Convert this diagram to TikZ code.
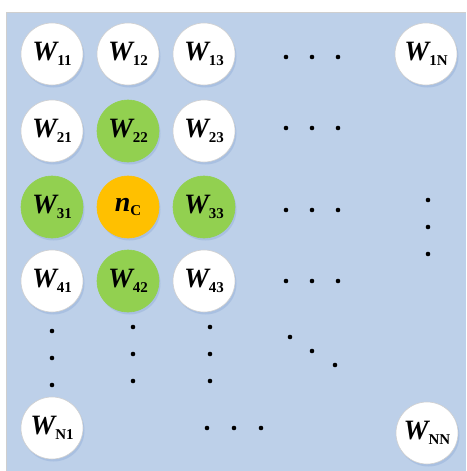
\documentclass[tikz,border=0pt]{standalone}
\usepackage{fontspec}
\setmainfont{Liberation Serif}
\usetikzlibrary{shadows}
\definecolor{bgblue}{HTML}{BDD0E9}
\definecolor{bgline}{HTML}{CFCFCF}
\definecolor{cgreen}{HTML}{92D050}
\definecolor{corange}{HTML}{FFC000}
\definecolor{shade}{HTML}{9DB6DC}
\tikzset{
  wnode/.style={circle, minimum size=62pt, inner sep=0pt, fill=white, draw=bgline, line width=0.6pt,
    drop shadow={shadow xshift=1.5pt, shadow yshift=-2.5pt, fill=shade, opacity=0.6}},
  gnode/.style={wnode, fill=cgreen, draw=cgreen},
  onode/.style={wnode, fill=corange, draw=corange},
  dotmark/.style={fill=black}
}
\newcommand{\Wl}[1]{{\fontsize{28}{28}\selectfont\bfseries\itshape W}\raisebox{-4.5pt}{\fontsize{15}{15}\selectfont\bfseries #1}}
\begin{document}
\begin{tikzpicture}[x=1pt,y=-1pt]
\useasboundingbox (0,0) rectangle (466,471);
\fill[bgblue] (6,12) rectangle (466,471);
\draw[bgline, line width=0.8pt] (6,471) -- (6,12) -- (466,12);
% row 1
\node[wnode] (w11) at (52,54) {\Wl{11}};
\node[wnode] (w12) at (128,54) {\Wl{12}};
\node[wnode] (w13) at (204,54) {\Wl{13}};
\node[wnode] (w1n) at (426,54) {\Wl{1N}};
% row 2
\node[wnode] (w21) at (52,131) {\Wl{21}};
\node[gnode] (w22) at (128,131) {\Wl{22}};
\node[wnode] (w23) at (204,131) {\Wl{23}};
% row 3
\node[gnode] (w31) at (52,207) {\Wl{31}};
\node[onode] (nc) at (128,207) {{\fontsize{28}{28}\selectfont\bfseries\itshape n}\raisebox{-4.5pt}{\fontsize{15}{15}\selectfont\bfseries C}};
\node[gnode] (w33) at (204,207) {\Wl{33}};
% row 4
\node[wnode] (w41) at (52,281) {\Wl{41}};
\node[gnode] (w42) at (128,281) {\Wl{42}};
\node[wnode] (w43) at (204,281) {\Wl{43}};
% last row
\node[wnode] (wn1) at (52,428) {\Wl{N1}};
\node[wnode] (wnn) at (427,433) {\Wl{NN}};
% dots
\foreach \x in {286,312,338}{
  \foreach \y in {57,128,210,281}{
    \fill[dotmark] (\x,\y) circle (2.3pt);
  }
}
\foreach \y in {200,227,254}{\fill[dotmark] (428,\y) circle (2.3pt);}
\foreach \y in {331,358,385}{\fill[dotmark] (52,\y) circle (2.3pt);}
\foreach \y in {327,354,381}{\fill[dotmark] (133,\y) circle (2.3pt); \fill[dotmark] (210,\y) circle (2.3pt);}
\fill[dotmark] (290,337) circle (2.3pt);
\fill[dotmark] (312,351) circle (2.3pt);
\fill[dotmark] (335,365) circle (2.3pt);
\foreach \x in {207,234,261}{\fill[dotmark] (\x,428) circle (2.3pt);}
\end{tikzpicture}
\end{document}
